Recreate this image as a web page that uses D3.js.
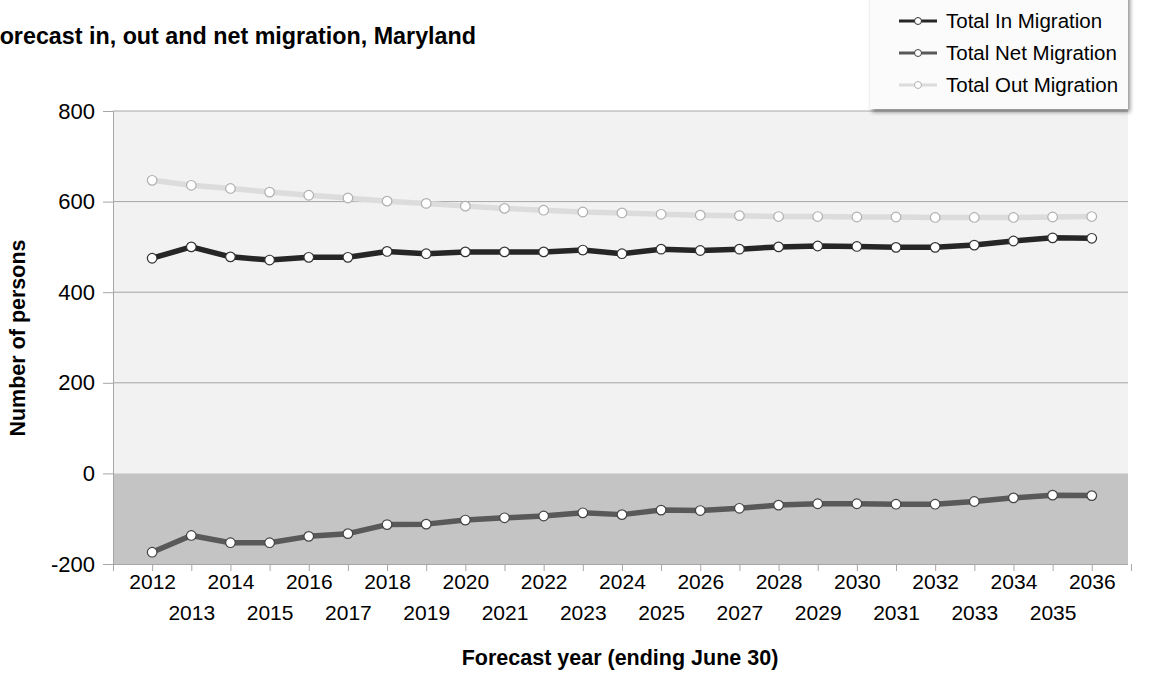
<!DOCTYPE html>
<html><head><meta charset="utf-8">
<script src="https://cdn.jsdelivr.net/npm/d3@7"></script>
<style>body{margin:0;background:#fff;}svg{display:block;font-family:"Liberation Sans",Arial,sans-serif;}</style>
</head><body><svg id="c" width="1156" height="673"></svg>
<script>
const years = d3.range(2012, 2037);
const inMigration = [475,500,478,471,477,477,490,485,489,489,489,493,485,495,492,495,500,502,501,499,499,504,513,520,519];
const netMigration = [-174,-137,-153,-153,-139,-133,-113,-112,-103,-98,-94,-87,-91,-81,-82,-77,-70,-67,-67,-68,-68,-62,-54,-48,-49];
const outMigration = [647,636,629,621,614,608,601,596,590,585,581,577,575,572,570,569,567,567,566,566,565,565,565,566,567];
const yTicks = [-200,0,200,400,600,800];
const seriesNames = ["Total In Migration","Total Net Migration","Total Out Migration"];

const svg = d3.select("#c");
const L=113, R=1128, T=111, B=564;
const x = d3.scaleLinear().domain([2011,2037]).range([L, L+26*39.15]);
const y = d3.scaleLinear().domain([-200,800]).range([B,T]);

// backgrounds
svg.append("rect").attr("x",L).attr("y",y(800)).attr("width",R-L).attr("height",y(0)-y(800)).attr("fill","#f2f2f2");
svg.append("rect").attr("x",L).attr("y",y(0)).attr("width",R-L).attr("height",y(-200)-y(0)).attr("fill","#c4c4c4");
// gridlines
svg.append("g").selectAll("line").data(yTicks.filter(d=>d>0)).join("line")
  .attr("x1",L).attr("x2",R).attr("y1",d=>y(d)).attr("y2",d=>y(d)).attr("stroke","#a6a6a6").attr("stroke-width",1);

// y axis
const ya = svg.append("g").attr("transform",`translate(${L},0)`).call(d3.axisLeft(y).tickValues(yTicks).tickSize(10).tickPadding(8).tickFormat(d=>String(d)));
ya.select(".domain").attr("stroke","#a6a6a6");
ya.selectAll(".tick line").attr("stroke","#a6a6a6");
ya.selectAll("text").attr("font-size",22).attr("fill","#000").attr("font-family","Liberation Sans, Arial");

// x axis
const xa = svg.append("g").attr("transform",`translate(0,${B})`).call(d3.axisBottom(x).tickValues(d3.range(2011,2038)).tickSize(7).tickSizeOuter(0).tickFormat(d=>(d>=2012&&d<=2036)?d:""));
xa.select(".domain").attr("stroke","#a6a6a6").attr("d",`M${L},0.5H${R}`);
xa.selectAll(".tick line").attr("stroke","#a6a6a6");
xa.selectAll("text").attr("font-size",21).attr("fill","#000").attr("font-family","Liberation Sans, Arial")
  .attr("y",d=>d%2===0?10:41);

// lines
const series = [
  {name:seriesNames[2], vals:outMigration, color:"#dcdcdc", mstroke:"#b0b0b0"},
  {name:seriesNames[0], vals:inMigration, color:"#262626", mstroke:"#333"},
  {name:seriesNames[1], vals:netMigration, color:"#595959", mstroke:"#444"}
];
const line = d3.line().x((d,i)=>x(years[i])).y(d=>y(d));
series.forEach(s=>{
  svg.append("path").datum(s.vals).attr("d",line).attr("fill","none").attr("stroke",s.color).attr("stroke-width",5.5).attr("stroke-linejoin","round");
  svg.append("g").selectAll("circle").data(s.vals).join("circle")
    .attr("cx",(d,i)=>x(years[i])).attr("cy",d=>y(d)).attr("r",4.8)
    .attr("fill","#fff").attr("stroke",s.mstroke).attr("stroke-width",1.2);
});

// title (the reference shows its first letter cut by the left edge)
svg.append("text").attr("x",476).attr("y",44).attr("text-anchor","end").attr("font-size",23.3).attr("font-weight","bold").text("Forecast in, out and net migration, Maryland");
// axis titles
svg.append("text").attr("x",620).attr("y",665).attr("text-anchor","middle").attr("font-size",21.5).attr("font-weight","bold").text("Forecast year (ending June 30)");
svg.append("text").attr("transform","translate(25,338) rotate(-90)").attr("text-anchor","middle").attr("font-size",21.5).attr("font-weight","bold").text("Number of persons");

// legend
const defs = svg.append("defs");
const f = defs.append("filter").attr("id","sh").attr("x","-10%").attr("y","-10%").attr("width","130%").attr("height","140%");
f.append("feDropShadow").attr("dx",2).attr("dy",3).attr("stdDeviation",2).attr("flood-color","#000").attr("flood-opacity",0.45);
svg.append("rect").attr("x",870).attr("y",-10).attr("width",258).attr("height",119).attr("fill","#fbfbfb").attr("filter","url(#sh)");
const legItems = [
  {name:seriesNames[0], color:"#262626", mstroke:"#333"},
  {name:seriesNames[1], color:"#595959", mstroke:"#444"},
  {name:seriesNames[2], color:"#dcdcdc", mstroke:"#b0b0b0"}
];
legItems.forEach((it,i)=>{
  const cy = 21 + i*32;
  svg.append("line").attr("x1",899).attr("x2",937).attr("y1",cy).attr("y2",cy).attr("stroke",it.color).attr("stroke-width",3);
  svg.append("circle").attr("cx",918).attr("cy",cy).attr("r",3.5).attr("fill","#fff").attr("stroke",it.mstroke).attr("stroke-width",1);
  svg.append("text").attr("x",946).attr("y",cy+7).attr("font-size",20.5).attr("fill","#000").text(it.name);
});
</script></body></html>
